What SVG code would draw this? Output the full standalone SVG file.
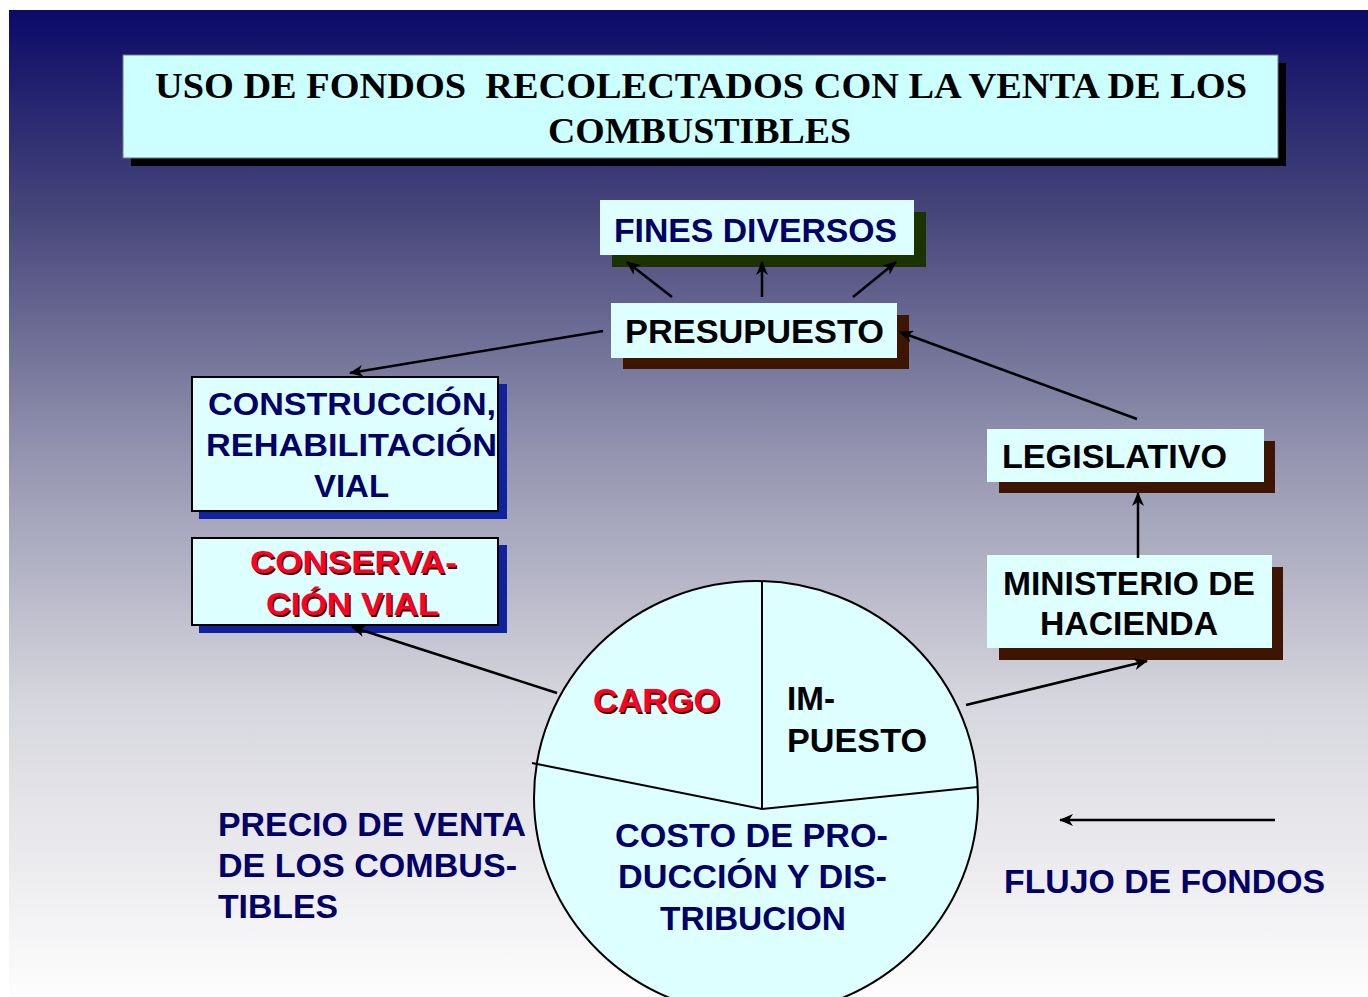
<svg xmlns="http://www.w3.org/2000/svg" width="1368" height="997" viewBox="0 0 1368 997">
<defs>
<linearGradient id="bg" x1="0" y1="0" x2="0" y2="1">
<stop offset="0" stop-color="#0b0a68"/>
<stop offset="0.2" stop-color="#45447a"/>
<stop offset="0.45" stop-color="#9494b0"/>
<stop offset="0.7" stop-color="#d6d6de"/>
<stop offset="1" stop-color="#fdfdfd"/>
</linearGradient>
<marker id="arr" viewBox="0 0 14 12" refX="13" refY="6" markerWidth="14" markerHeight="12" markerUnits="userSpaceOnUse" orient="auto">
<path d="M0,0 L14,6 L0,12 L4,6 Z" fill="#000"/>
</marker>
<style>
.sans{font-family:"Liberation Sans",Arial,sans-serif;font-weight:bold;}
.serif{font-family:"Liberation Serif","Times New Roman",serif;font-weight:bold;}
.box{fill:#ddffff;}
.bbox{fill:#ddffff;stroke:#000;stroke-width:2;}
.navy{fill:#000066;}
.blk{fill:#000;}
.red{fill:#ff0022;}
.rsh{fill:#440000;}
.con{stroke:#000;stroke-width:2.5;fill:none;marker-end:url(#arr);}
</style>
</defs>
<rect x="9" y="10" width="1359" height="987" fill="url(#bg)"/>

<g id="title">
<rect x="131" y="63" width="1155" height="103" fill="#000"/>
<rect x="123" y="55" width="1155" height="103" fill="#ccffff" stroke="#6a7a90" stroke-width="1"/>
<text class="serif blk" x="155" y="98" font-size="36" textLength="1092" lengthAdjust="spacingAndGlyphs" xml:space="preserve">USO DE FONDOS  RECOLECTADOS CON LA VENTA DE LOS</text>
<text class="serif blk" x="548" y="143" font-size="36" textLength="303" lengthAdjust="spacingAndGlyphs">COMBUSTIBLES</text>
</g>

<g id="fines">
<rect x="612" y="212" width="314" height="55" fill="#1a3300"/>
<rect class="box" x="600" y="200" width="314" height="55"/>
<text class="sans navy" x="614" y="242" font-size="33" textLength="283" lengthAdjust="spacingAndGlyphs">FINES DIVERSOS</text>
</g>

<g id="presupuesto">
<rect x="623" y="315" width="286" height="54" fill="#3d1500"/>
<rect class="box" x="611" y="303" width="286" height="55"/>
<text class="sans blk" x="625" y="343" font-size="33" textLength="259" lengthAdjust="spacingAndGlyphs">PRESUPUESTO</text>
</g>

<g id="construccion">
<rect x="199" y="384" width="308" height="135" fill="#10239c"/>
<rect class="bbox" x="192" y="377" width="306" height="134"/>
<text class="sans navy" x="208" y="415" font-size="32" textLength="288" lengthAdjust="spacingAndGlyphs">CONSTRUCCIÓN,</text>
<text class="sans navy" x="206" y="456" font-size="32" textLength="291" lengthAdjust="spacingAndGlyphs">REHABILITACIÓN</text>
<text class="sans navy" x="314" y="497" font-size="32" textLength="75" lengthAdjust="spacingAndGlyphs">VIAL</text>
</g>

<g id="conservacion">
<rect x="199" y="545" width="308" height="88" fill="#10239c"/>
<rect class="bbox" x="192" y="538" width="306" height="87"/>
<text class="sans rsh" x="251.5" y="574.5" font-size="32" textLength="207" lengthAdjust="spacingAndGlyphs">CONSERVA-</text>
<text class="sans red" x="250" y="573" font-size="32" textLength="207" lengthAdjust="spacingAndGlyphs">CONSERVA-</text>
<text class="sans rsh" x="267.5" y="616.5" font-size="32" textLength="173" lengthAdjust="spacingAndGlyphs">CIÓN VIAL</text>
<text class="sans red" x="266" y="615" font-size="32" textLength="173" lengthAdjust="spacingAndGlyphs">CIÓN VIAL</text>
</g>

<g id="legislativo">
<rect x="999" y="441" width="276" height="52" fill="#3d1500"/>
<rect class="box" x="987" y="429" width="277" height="53"/>
<text class="sans blk" x="1002" y="468" font-size="33" textLength="225" lengthAdjust="spacingAndGlyphs">LEGISLATIVO</text>
</g>

<g id="ministerio">
<rect x="999" y="567" width="284" height="93" fill="#3d1500"/>
<rect class="box" x="987" y="555" width="285" height="93"/>
<text class="sans blk" x="1003" y="595" font-size="33" textLength="252" lengthAdjust="spacingAndGlyphs">MINISTERIO DE</text>
<text class="sans blk" x="1040" y="635" font-size="33" textLength="178" lengthAdjust="spacingAndGlyphs">HACIENDA</text>
</g>

<g id="precio">
<ellipse cx="756" cy="798" rx="222" ry="217" fill="#ddffff" stroke="#000" stroke-width="2"/>
<line x1="762" y1="582" x2="762" y2="809" stroke="#000" stroke-width="2"/>
<polyline points="532,763 762,809 978,787" fill="none" stroke="#000" stroke-width="2"/>
<text class="sans rsh" x="594.5" y="713.5" font-size="33" textLength="127" lengthAdjust="spacingAndGlyphs">CARGO</text>
<text class="sans red" x="593" y="712" font-size="33" textLength="127" lengthAdjust="spacingAndGlyphs">CARGO</text>
<text class="sans blk" x="787" y="710" font-size="33" textLength="48" lengthAdjust="spacingAndGlyphs">IM-</text>
<text class="sans blk" x="787" y="752" font-size="33" textLength="140" lengthAdjust="spacingAndGlyphs">PUESTO</text>
<text class="sans navy" x="615" y="847" font-size="33" textLength="273" lengthAdjust="spacingAndGlyphs">COSTO DE PRO-</text>
<text class="sans navy" x="618" y="888" font-size="33" textLength="269" lengthAdjust="spacingAndGlyphs">DUCCIÓN Y DIS-</text>
<text class="sans navy" x="660" y="930" font-size="33" textLength="186" lengthAdjust="spacingAndGlyphs">TRIBUCION</text>
</g>

<g id="label-precio">
<text class="sans navy" x="218" y="836" font-size="33" textLength="308" lengthAdjust="spacingAndGlyphs">PRECIO DE VENTA</text>
<text class="sans navy" x="218" y="877" font-size="33" textLength="299" lengthAdjust="spacingAndGlyphs">DE LOS COMBUS-</text>
<text class="sans navy" x="218" y="918" font-size="33" textLength="120" lengthAdjust="spacingAndGlyphs">TIBLES</text>
</g>

<g id="leyenda">
<text class="sans navy" x="1004" y="893" font-size="33" textLength="321" lengthAdjust="spacingAndGlyphs">FLUJO DE FONDOS</text>
</g>

<g id="connectors">
<line class="con" x1="672" y1="297" x2="627" y2="262"/>
<line class="con" x1="762" y1="297" x2="762" y2="262"/>
<line class="con" x1="853" y1="297" x2="896" y2="262"/>
<line class="con" x1="603" y1="331" x2="350" y2="373"/>
<line class="con" x1="1137" y1="419" x2="900" y2="332"/>
<line class="con" x1="1138" y1="558" x2="1138" y2="493"/>
<line class="con" x1="966" y1="705" x2="1147" y2="661"/>
<line class="con" x1="557" y1="693" x2="352" y2="627"/>
<line class="con" x1="1275" y1="820" x2="1060" y2="820"/>
</g>
</svg>
